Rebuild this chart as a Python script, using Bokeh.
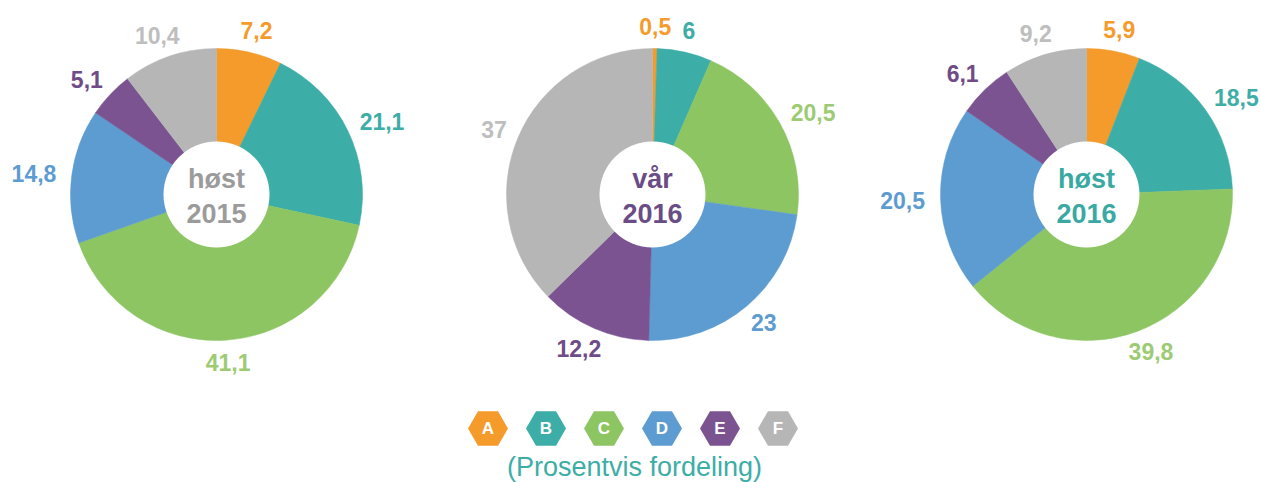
import math
from bokeh.plotting import figure
from bokeh.models import ColumnDataSource, Range1d
from bokeh.core.properties import value
from bokeh.embed import file_html
from bokeh.resources import INLINE

categories = ["A", "B", "C", "D", "E", "F"]
colors = ["#F49B2C", "#3DADA7", "#8DC563", "#5D9CD1", "#7A5390", "#B6B6B6"]
label_colors = ["#F49B2C", "#3DADA7", "#9CCB74", "#5D9CD1", "#6F4C87", "#BEBEBE"]

period_line1 = ["høst", "vår", "høst"]
period_line2 = ["2015", "2016", "2016"]
period_colors = ["#9B9B9B", "#6A4C87", "#3AA9A3"]

values_h2015 = [7.2, 21.1, 41.1, 14.8, 5.1, 10.4]
values_v2016 = [0.5, 6, 20.5, 23, 12.2, 37]
values_h2016 = [5.9, 18.5, 39.8, 20.5, 6.1, 9.2]

subtitle = "(Prosentvis fordeling)"

W, H = 1261, 482
p = figure(width=W, height=H, x_range=Range1d(0, W), y_range=Range1d(0, H),
           output_backend="svg", toolbar_location=None, min_border=0)
p.axis.visible = False
p.grid.visible = False
p.outline_line_color = None
p.background_fill_color = "white"
p.border_fill_color = "white"

centers_x = [216, 652, 1086]
cy = H - 194
R = 146
R_in = 53
FONT = value("Liberation Sans")

all_values = [values_h2015, values_v2016, values_h2016]

for k, vals in enumerate(all_values):
    cx = centers_x[k]
    total = sum(vals)
    starts, ends, lx, ly, labels = [], [], [], [], []
    cum = 0.0
    for v in vals:
        f0 = cum / total
        cum += v
        f1 = cum / total
        starts.append(math.pi / 2 - 2 * math.pi * f0)
        ends.append(math.pi / 2 - 2 * math.pi * f1)
        mid = 2 * math.pi * (f0 + f1) / 2  # clockwise from top
        s, c = math.sin(mid), math.cos(mid)
        lab = f"{v:g}".replace(".", ",")
        w = len(lab) * 12
        lx.append(cx + (R + 14) * s + s * w / 2)
        ly.append(cy + (R + 14) * c + c * 8)
        labels.append(lab)
    src = ColumnDataSource(dict(start=starts, end=ends, color=colors,
                                lx=lx, ly=ly, label=labels, lcolor=label_colors))
    p.wedge(x=cx, y=cy, radius=R, start_angle="start", end_angle="end",
            direction="clock", fill_color="color", line_color="color",
            line_width=0.5, source=src)
    p.circle(x=[cx], y=[cy], radius=R_in, fill_color="white", line_color=None)
    p.text(x="lx", y="ly", text="label", text_color="lcolor", source=src,
           text_font=FONT, text_font_style="bold", text_font_size="23px",
           text_align="center", text_baseline="middle")
    p.text(x=[cx, cx], y=[cy + 16, cy - 19],
           text=[period_line1[k], period_line2[k]],
           text_color=period_colors[k], text_font=FONT, text_font_style="bold",
           text_font_size="27px", text_align="center", text_baseline="middle")

# legend hexagons
leg_y = H - 428
leg_x = [632.5 + (i - 2.5) * 58 for i in range(len(categories))]
lsrc = ColumnDataSource(dict(x=leg_x, y=[leg_y] * 6, color=colors, cat=categories))
p.scatter(x="x", y="y", marker="hex", size=40, fill_color="color",
          line_color=None, source=lsrc)
p.text(x="x", y="y", text="cat", text_color="white", source=lsrc,
       text_font=FONT, text_font_style="bold", text_font_size="17px",
       text_align="center", text_baseline="middle")

p.text(x=[634], y=[H - 466], text=[subtitle], text_color="#3DADA7",
       text_font=FONT, text_font_size="27px", text_align="center",
       text_baseline="middle")

open("out.html", "w").write(file_html(p, INLINE))
